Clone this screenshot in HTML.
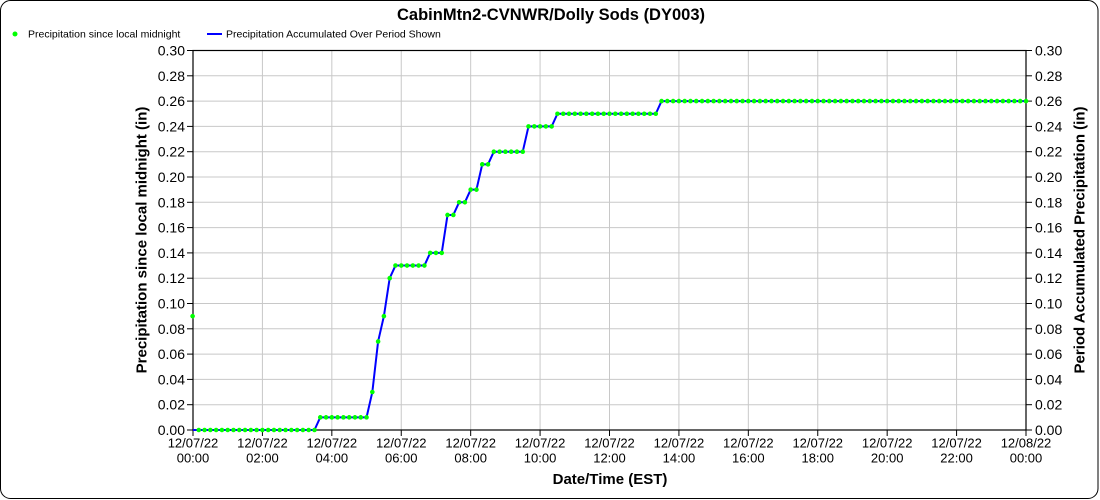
<!DOCTYPE html>
<html><head><meta charset="utf-8"><style>
html,body{margin:0;padding:0;background:#fff;}
svg{display:block;font-family:"Liberation Sans",Arial,sans-serif;}
</style></head><body>
<svg width="1100" height="500" viewBox="0 0 1100 500" xmlns="http://www.w3.org/2000/svg">
<rect x="0.5" y="0.5" width="1097.5" height="498" rx="10" ry="10" fill="#fff" stroke="#000" stroke-width="1"/>
<text x="551" y="20" font-size="16.5" font-weight="bold" text-anchor="middle">CabinMtn2-CVNWR/Dolly Sods (DY003)</text>
<circle cx="15" cy="34" r="2.5" fill="#00ff00"/>
<text x="28" y="37.5" font-size="10.5">Precipitation since local midnight</text>
<line x1="207" y1="34" x2="222" y2="34" stroke="#0000ff" stroke-width="2"/>
<text x="226" y="37.5" font-size="10.5">Precipitation Accumulated Over Period Shown</text>
<g stroke="#c8c8c8" stroke-width="1">
<line x1="262.42" y1="50.5" x2="262.42" y2="430"/><line x1="331.83" y1="50.5" x2="331.83" y2="430"/><line x1="401.25" y1="50.5" x2="401.25" y2="430"/><line x1="470.67" y1="50.5" x2="470.67" y2="430"/><line x1="540.08" y1="50.5" x2="540.08" y2="430"/><line x1="609.5" y1="50.5" x2="609.5" y2="430"/><line x1="678.92" y1="50.5" x2="678.92" y2="430"/><line x1="748.33" y1="50.5" x2="748.33" y2="430"/><line x1="817.75" y1="50.5" x2="817.75" y2="430"/><line x1="887.17" y1="50.5" x2="887.17" y2="430"/><line x1="956.58" y1="50.5" x2="956.58" y2="430"/>
<line x1="193" y1="404.7" x2="1026" y2="404.7"/><line x1="193" y1="379.4" x2="1026" y2="379.4"/><line x1="193" y1="354.1" x2="1026" y2="354.1"/><line x1="193" y1="328.8" x2="1026" y2="328.8"/><line x1="193" y1="303.5" x2="1026" y2="303.5"/><line x1="193" y1="278.2" x2="1026" y2="278.2"/><line x1="193" y1="252.9" x2="1026" y2="252.9"/><line x1="193" y1="227.6" x2="1026" y2="227.6"/><line x1="193" y1="202.3" x2="1026" y2="202.3"/><line x1="193" y1="177" x2="1026" y2="177"/><line x1="193" y1="151.7" x2="1026" y2="151.7"/><line x1="193" y1="126.4" x2="1026" y2="126.4"/><line x1="193" y1="101.1" x2="1026" y2="101.1"/><line x1="193" y1="75.8" x2="1026" y2="75.8"/>
</g>
<rect x="193" y="50.5" width="833" height="379.5" fill="none" stroke="#000" stroke-width="1.2"/>
<g stroke="#000" stroke-width="1">
<line x1="187" y1="430" x2="193" y2="430"/><line x1="187" y1="404.7" x2="193" y2="404.7"/><line x1="187" y1="379.4" x2="193" y2="379.4"/><line x1="187" y1="354.1" x2="193" y2="354.1"/><line x1="187" y1="328.8" x2="193" y2="328.8"/><line x1="187" y1="303.5" x2="193" y2="303.5"/><line x1="187" y1="278.2" x2="193" y2="278.2"/><line x1="187" y1="252.9" x2="193" y2="252.9"/><line x1="187" y1="227.6" x2="193" y2="227.6"/><line x1="187" y1="202.3" x2="193" y2="202.3"/><line x1="187" y1="177" x2="193" y2="177"/><line x1="187" y1="151.7" x2="193" y2="151.7"/><line x1="187" y1="126.4" x2="193" y2="126.4"/><line x1="187" y1="101.1" x2="193" y2="101.1"/><line x1="187" y1="75.8" x2="193" y2="75.8"/><line x1="187" y1="50.5" x2="193" y2="50.5"/>
<line x1="1026" y1="430" x2="1032" y2="430"/><line x1="1026" y1="404.7" x2="1032" y2="404.7"/><line x1="1026" y1="379.4" x2="1032" y2="379.4"/><line x1="1026" y1="354.1" x2="1032" y2="354.1"/><line x1="1026" y1="328.8" x2="1032" y2="328.8"/><line x1="1026" y1="303.5" x2="1032" y2="303.5"/><line x1="1026" y1="278.2" x2="1032" y2="278.2"/><line x1="1026" y1="252.9" x2="1032" y2="252.9"/><line x1="1026" y1="227.6" x2="1032" y2="227.6"/><line x1="1026" y1="202.3" x2="1032" y2="202.3"/><line x1="1026" y1="177" x2="1032" y2="177"/><line x1="1026" y1="151.7" x2="1032" y2="151.7"/><line x1="1026" y1="126.4" x2="1032" y2="126.4"/><line x1="1026" y1="101.1" x2="1032" y2="101.1"/><line x1="1026" y1="75.8" x2="1032" y2="75.8"/><line x1="1026" y1="50.5" x2="1032" y2="50.5"/>
<line x1="193" y1="430" x2="193" y2="436"/><line x1="262.42" y1="430" x2="262.42" y2="436"/><line x1="331.83" y1="430" x2="331.83" y2="436"/><line x1="401.25" y1="430" x2="401.25" y2="436"/><line x1="470.67" y1="430" x2="470.67" y2="436"/><line x1="540.08" y1="430" x2="540.08" y2="436"/><line x1="609.5" y1="430" x2="609.5" y2="436"/><line x1="678.92" y1="430" x2="678.92" y2="436"/><line x1="748.33" y1="430" x2="748.33" y2="436"/><line x1="817.75" y1="430" x2="817.75" y2="436"/><line x1="887.17" y1="430" x2="887.17" y2="436"/><line x1="956.58" y1="430" x2="956.58" y2="436"/><line x1="1026" y1="430" x2="1026" y2="436"/>
</g>
<g font-size="14" text-anchor="end">
<text x="185" y="435">0.00</text><text x="185" y="409.7">0.02</text><text x="185" y="384.4">0.04</text><text x="185" y="359.1">0.06</text><text x="185" y="333.8">0.08</text><text x="185" y="308.5">0.10</text><text x="185" y="283.2">0.12</text><text x="185" y="257.9">0.14</text><text x="185" y="232.6">0.16</text><text x="185" y="207.3">0.18</text><text x="185" y="182">0.20</text><text x="185" y="156.7">0.22</text><text x="185" y="131.4">0.24</text><text x="185" y="106.1">0.26</text><text x="185" y="80.8">0.28</text><text x="185" y="55.5">0.30</text>
</g>
<g font-size="14" text-anchor="start">
<text x="1035" y="435">0.00</text><text x="1035" y="409.7">0.02</text><text x="1035" y="384.4">0.04</text><text x="1035" y="359.1">0.06</text><text x="1035" y="333.8">0.08</text><text x="1035" y="308.5">0.10</text><text x="1035" y="283.2">0.12</text><text x="1035" y="257.9">0.14</text><text x="1035" y="232.6">0.16</text><text x="1035" y="207.3">0.18</text><text x="1035" y="182">0.20</text><text x="1035" y="156.7">0.22</text><text x="1035" y="131.4">0.24</text><text x="1035" y="106.1">0.26</text><text x="1035" y="80.8">0.28</text><text x="1035" y="55.5">0.30</text>
</g>
<g font-size="13" text-anchor="middle">
<text x="193" y="447.5">12/07/22</text><text x="193" y="462.5">00:00</text>
<text x="262.42" y="447.5">12/07/22</text><text x="262.42" y="462.5">02:00</text>
<text x="331.83" y="447.5">12/07/22</text><text x="331.83" y="462.5">04:00</text>
<text x="401.25" y="447.5">12/07/22</text><text x="401.25" y="462.5">06:00</text>
<text x="470.67" y="447.5">12/07/22</text><text x="470.67" y="462.5">08:00</text>
<text x="540.08" y="447.5">12/07/22</text><text x="540.08" y="462.5">10:00</text>
<text x="609.5" y="447.5">12/07/22</text><text x="609.5" y="462.5">12:00</text>
<text x="678.92" y="447.5">12/07/22</text><text x="678.92" y="462.5">14:00</text>
<text x="748.33" y="447.5">12/07/22</text><text x="748.33" y="462.5">16:00</text>
<text x="817.75" y="447.5">12/07/22</text><text x="817.75" y="462.5">18:00</text>
<text x="887.17" y="447.5">12/07/22</text><text x="887.17" y="462.5">20:00</text>
<text x="956.58" y="447.5">12/07/22</text><text x="956.58" y="462.5">22:00</text>
<text x="1026" y="447.5">12/08/22</text><text x="1026" y="462.5">00:00</text>
</g>
<text x="610" y="484" font-size="15" font-weight="bold" text-anchor="middle">Date/Time (EST)</text>
<text transform="translate(146.5,240) rotate(-90)" font-size="15" font-weight="bold" text-anchor="middle">Precipitation since local midnight (in)</text>
<text transform="translate(1084.5,240) rotate(-90)" font-size="15" font-weight="bold" text-anchor="middle">Period Accumulated Precipitation (in)</text>
<polyline fill="none" stroke="#0000ff" stroke-width="2" stroke-linejoin="round" points="193,430 314.48,430 320.26,417.35 366.54,417.35 372.33,392.05 378.11,341.45 383.90,316.15 389.68,278.2 395.47,265.55 424.39,265.55 430.17,252.9 441.74,252.9 447.53,214.95 453.31,214.95 459.10,202.3 464.88,202.3 470.67,189.65 476.45,189.65 482.24,164.35 488.02,164.35 493.81,151.7 522.73,151.7 528.51,126.4 551.65,126.4 557.44,113.75 655.78,113.75 661.56,101.1 1026,101.1"/>
<g stroke="#00ff00" stroke-width="4.6" stroke-linecap="round" stroke-dasharray="0 5.78472" fill="none">
<path d="M198.78 430 H314.6"/>
<path d="M320.26 417.35 H366.7"/>
<path d="M395.47 265.55 H424.5"/>
<path d="M430.17 252.9 H441.9"/>
<path d="M447.53 214.95 H453.45"/>
<path d="M459.10 202.3 H465.0"/>
<path d="M470.67 189.65 H476.6"/>
<path d="M482.24 164.35 H488.15"/>
<path d="M493.81 151.7 H522.85"/>
<path d="M528.51 126.4 H551.8"/>
<path d="M557.44 113.75 H655.9"/>
<path d="M661.56 101.1 H1026.1"/>
</g>
<g fill="#00ff00">
<circle cx="192.6" cy="316.15" r="2.3"/>
<circle cx="372.33" cy="392.05" r="2.3"/>
<circle cx="378.11" cy="341.45" r="2.3"/>
<circle cx="383.90" cy="316.15" r="2.3"/>
<circle cx="389.68" cy="278.2" r="2.3"/>
</g>
</svg>
</body></html>
